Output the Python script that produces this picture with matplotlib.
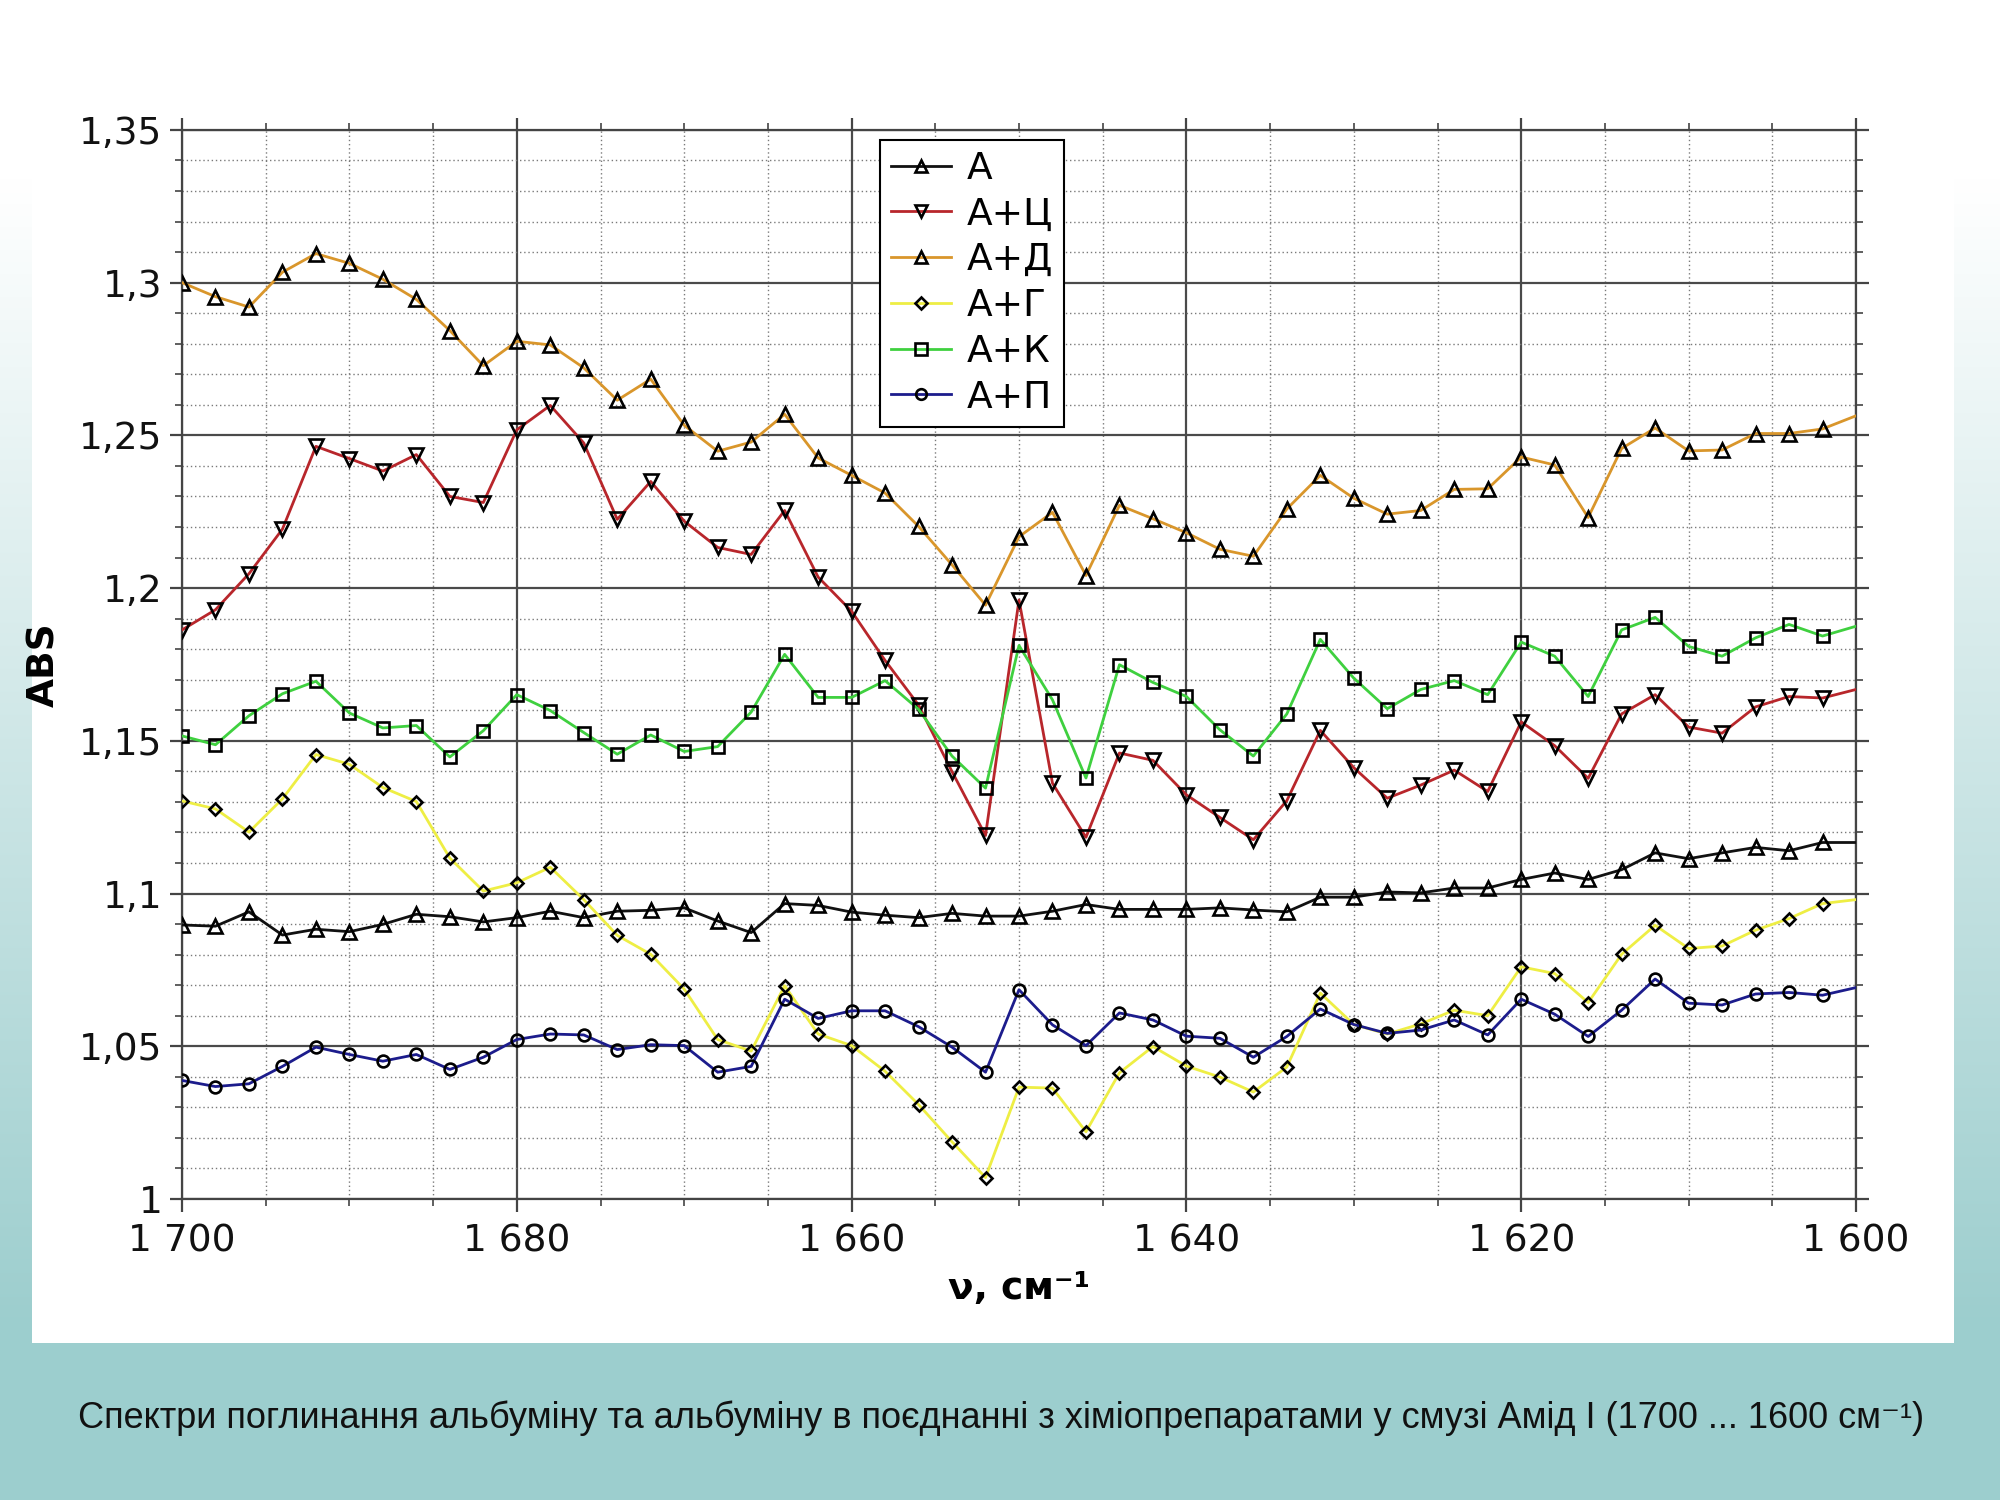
import numpy as np
import matplotlib
matplotlib.use("Agg")
import matplotlib.pyplot as plt
from matplotlib.patches import Rectangle
from matplotlib.ticker import MultipleLocator, FuncFormatter

# ---------------- data ----------------
wavenumber = list(range(1700, 1599, -2))

abs_A = [1.0897, 1.0893, 1.0940, 1.0864, 1.0883, 1.0875, 1.0899, 1.0932, 1.0924, 1.0907,
         1.0921, 1.0942, 1.0921, 1.0942, 1.0945, 1.0953, 1.0910, 1.0872, 1.0967, 1.0961,
         1.0939, 1.0929, 1.0921, 1.0935, 1.0926, 1.0926, 1.0942, 1.0964, 1.0948, 1.0948,
         1.0948, 1.0953, 1.0946, 1.0940, 1.0988, 1.0988, 1.1005, 1.1002, 1.1018, 1.1018,
         1.1046, 1.1067, 1.1046, 1.1078, 1.1133, 1.1114, 1.1133, 1.1151, 1.1140, 1.1167,
         1.1167]

abs_A_C = [1.1863, 1.1929, 1.2047, 1.2193, 1.2464, 1.2424, 1.2383, 1.2437, 1.2300, 1.2280,
           1.2518, 1.2598, 1.2475, 1.2225, 1.2349, 1.2219, 1.2133, 1.2110, 1.2254, 1.2036,
           1.1924, 1.1763, 1.1617, 1.1399, 1.1190, 1.1961, 1.1361, 1.1184, 1.1460, 1.1436,
           1.1323, 1.1249, 1.1176, 1.1304, 1.1534, 1.1412, 1.1312, 1.1355, 1.1404, 1.1334,
           1.1562, 1.1484, 1.1377, 1.1588, 1.1651, 1.1545, 1.1525, 1.1611, 1.1645, 1.1640,
           1.1668]

abs_A_D = [1.3000, 1.2954, 1.2920, 1.3034, 1.3095, 1.3063, 1.3011, 1.2945, 1.2843, 1.2728,
           1.2808, 1.2796, 1.2721, 1.2615, 1.2684, 1.2533, 1.2448, 1.2478, 1.2569, 1.2426,
           1.2369, 1.2311, 1.2202, 1.2076, 1.1944, 1.2168, 1.2248, 1.2041, 1.2271, 1.2227,
           1.2181, 1.2127, 1.2104, 1.2259, 1.2369, 1.2294, 1.2242, 1.2254, 1.2323, 1.2325,
           1.2429, 1.2403, 1.2231, 1.2457, 1.2524, 1.2449, 1.2452, 1.2506, 1.2506, 1.2521,
           1.2564]

abs_A_G = [1.1303, 1.1277, 1.1201, 1.1310, 1.1455, 1.1423, 1.1347, 1.1301, 1.1116, 1.1008,
           1.1035, 1.1086, 1.0980, 1.0863, 1.0801, 1.0687, 1.0522, 1.0484, 1.0698, 1.0540,
           1.0502, 1.0418, 1.0309, 1.0187, 1.0070, 1.0366, 1.0363, 1.0220, 1.0413, 1.0499,
           1.0435, 1.0399, 1.0350, 1.0432, 1.0674, 1.0571, 1.0540, 1.0573, 1.0618, 1.0600,
           1.0760, 1.0738, 1.0643, 1.0801, 1.0896, 1.0820, 1.0828, 1.0880, 1.0918, 1.0967,
           1.0980]

abs_A_K = [1.1516, 1.1487, 1.1582, 1.1654, 1.1695, 1.1591, 1.1542, 1.1550, 1.1447, 1.1533,
           1.1651, 1.1599, 1.1527, 1.1456, 1.1519, 1.1465, 1.1481, 1.1594, 1.1783, 1.1642,
           1.1642, 1.1697, 1.1603, 1.1450, 1.1345, 1.1812, 1.1634, 1.1378, 1.1749, 1.1691,
           1.1645, 1.1536, 1.1450, 1.1588, 1.1832, 1.1705, 1.1605, 1.1668, 1.1697, 1.1651,
           1.1823, 1.1777, 1.1645, 1.1863, 1.1904, 1.1809, 1.1777, 1.1837, 1.1881, 1.1843,
           1.1875]

abs_A_P = [1.0388, 1.0368, 1.0377, 1.0434, 1.0497, 1.0473, 1.0451, 1.0473, 1.0424, 1.0464,
           1.0522, 1.0540, 1.0537, 1.0489, 1.0505, 1.0502, 1.0415, 1.0434, 1.0654, 1.0591,
           1.0616, 1.0616, 1.0564, 1.0497, 1.0415, 1.0685, 1.0570, 1.0502, 1.0609, 1.0586,
           1.0533, 1.0526, 1.0464, 1.0532, 1.0622, 1.0571, 1.0542, 1.0553, 1.0586, 1.0537,
           1.0654, 1.0605, 1.0532, 1.0618, 1.0720, 1.0641, 1.0635, 1.0671, 1.0676, 1.0667,
           1.0692]

series_names = ["А", "А+Ц", "А+Д", "А+Г", "А+К", "А+П"]
series_values = [abs_A, abs_A_C, abs_A_D, abs_A_G, abs_A_K, abs_A_P]
series_colors = ["#111111", "#B8262B", "#D9962B", "#EEEE44", "#3FD03F", "#1C1C8C"]
series_markers = ["^", "v", "^", "D", "s", "o"]
series_msize = [9.5, 9.5, 9.5, 6.5, 9.0, 8.5]

x_label = "ν, см⁻¹"
y_label = "ABS"
caption = ("Спектри поглинання альбуміну та альбуміну в поєднанні з хіміопрепаратами "
           "у смузі Амід I (1700 ... 1600 см⁻¹)")

# ---------------- figure ----------------
fig = plt.figure(figsize=(20, 15), dpi=100)

# gradient background
bg = fig.add_axes([0, 0, 1, 1], zorder=-10)
bg.axis("off")
n = 600
f = np.linspace(0, 1, n)  # 0 bottom, 1 top
t = np.clip((f - 0.12) / (0.88 - 0.12), 0, 1)  # 0 -> teal, 1 -> white
teal = np.array([0.615, 0.808, 0.808])
white = np.array([1.0, 1.0, 1.0])
img = teal[None, :] * (1 - t[:, None]) + white[None, :] * t[:, None]
img = img[:, None, :]
bg.imshow(img, aspect="auto", extent=[0, 1, 0, 1], origin="lower")
bg.set_xlim(0, 1)
bg.set_ylim(0, 1)
bg.add_patch(Rectangle((0.016, 0.1047), 0.961, 0.8623, facecolor="white",
                       edgecolor="none"))

ax = fig.add_axes([0.091, 0.2007, 0.837, 0.7127])

for name, vals, col, mk, ms in zip(series_names, series_values, series_colors,
                                   series_markers, series_msize):
    ax.plot(wavenumber, vals, color=col, lw=2.0, marker=mk, ms=ms,
            mfc="none", mec="black", mew=1.9, markevery=slice(0, len(vals) - 1),
            label=name, zorder=3)

ax.set_xlim(1700, 1600)
ax.set_ylim(1.0, 1.35)

ax.xaxis.set_major_locator(MultipleLocator(20))
ax.xaxis.set_minor_locator(MultipleLocator(5))
ax.yaxis.set_major_locator(MultipleLocator(0.05))
ax.yaxis.set_minor_locator(MultipleLocator(0.01))

ax.xaxis.set_major_formatter(FuncFormatter(lambda v, p: f"{int(round(v)):,}".replace(",", " ")))
ax.yaxis.set_major_formatter(FuncFormatter(lambda v, p: f"{round(v, 3):g}".replace(".", ",")))

ax.set_axisbelow(True)
ax.grid(which="major", color="#4a4a4a", lw=1.6, ls="-")
ax.grid(which="minor", color="#7a7a7a", lw=1.0, ls=(0, (1, 2)))

ax.tick_params(which="both", direction="out", top=True, right=True, color="#444444",
               labelsize=27, labelcolor="#111111")
ax.tick_params(which="major", length=9, width=1.6, pad=5)
ax.tick_params(axis="x", which="major", pad=9)
ax.tick_params(which="minor", length=5, width=1.2)
for sp in ax.spines.values():
    sp.set_color("#444444")
    sp.set_linewidth(1.6)

ax.set_xlabel(x_label, fontsize=27, fontweight="bold", labelpad=8)
ax.set_ylabel(y_label, fontsize=27, fontweight="bold", labelpad=12)

leg = ax.legend(loc="upper left", bbox_to_anchor=(0.417, 0.991), borderaxespad=0,
                fontsize=27, frameon=True, fancybox=False, edgecolor="black",
                framealpha=1, handlelength=1.6, labelspacing=0.26,
                handletextpad=0.4, borderpad=0.3, markerscale=0.9)
leg.get_frame().set_linewidth(1.5)

fig.text(0.5005, 1 - 1418 / 1500, caption, ha="center", va="center", fontsize=26,
         family=["Liberation Sans", "DejaVu Sans"], color="#111111")

fig.savefig("out.png", dpi=100)
